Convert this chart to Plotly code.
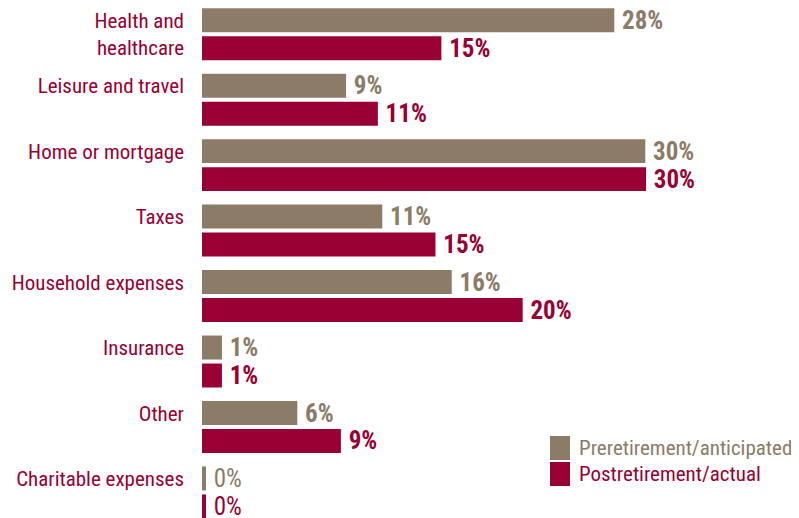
import plotly.graph_objects as go

categories = ["Health and healthcare", "Leisure and travel", "Home or mortgage", "Taxes",
              "Household expenses", "Insurance", "Other", "Charitable expenses"]
# how each category label is broken into lines in the picture
tick_texts = ["Health and<br>healthcare", "Leisure and travel<br>\u00a0", "Home or mortgage<br>\u00a0",
              "Taxes<br>\u00a0", "Household expenses<br>\u00a0", "Insurance<br>\u00a0",
              "Other<br>\u00a0", "Charitable expenses<br>\u00a0"]
# bar lengths as drawn (unrounded)
pre_values = [27.9, 9.75, 30.0, 12.2, 16.9, 1.35, 6.45, 0.27]
post_values = [16.2, 11.9, 30.05, 15.8, 21.7, 1.35, 9.4, 0.27]
# printed (rounded) labels
pre_labels = ["28%", "9%", "30%", "11%", "16%", "1%", "6%", "0%"]
post_labels = ["15%", "11%", "30%", "15%", "20%", "1%", "9%", "0%"]
series_names = ["Preretirement/anticipated", "Postretirement/actual"]

TAUPE = "#8B7B67"
CRIMSON = "#990033"
FONT = "Roboto Condensed, Liberation Sans Narrow, Arial Narrow, sans-serif"

W, H = 791, 510   # page has an 8px body margin; 791+8 = 799, 510+8 = 518
ML = 194

def weights(labels):
    return [400 if l == "0%" else 700 for l in labels]

fig = go.Figure()
for name, vals, labels, col in [(series_names[0], pre_values, pre_labels, TAUPE),
                                (series_names[1], post_values, post_labels, CRIMSON)]:
    fig.add_trace(go.Bar(
        y=categories, x=vals, name=name, orientation="h",
        marker=dict(color=col, line=dict(width=0)),
        text=["\u2009" + l for l in labels], textposition="outside", constraintext="none",
        textfont=dict(family=FONT, size=25, color=col, weight=weights(labels)),
        cliponaxis=False, showlegend=False, hoverinfo="skip",
    ))

fig.update_layout(
    width=W, height=H,
    margin=dict(l=ML, r=0, t=0, b=0, autoexpand=False),
    paper_bgcolor="white", plot_bgcolor="white",
    barmode="group", bargap=0.145, bargroupgap=0.143,
    font=dict(family=FONT, color=CRIMSON, size=21),
    xaxis=dict(range=[0, 40.4], visible=False, showgrid=False, zeroline=False, automargin=False),
    yaxis=dict(categoryorder="array", categoryarray=categories, range=[7.39, -0.40],
               tickmode="array", tickvals=categories, ticktext=tick_texts,
               showgrid=False, zeroline=False, showline=False, ticks="", automargin=False,
               ticklabelstandoff=17, tickfont=dict(family=FONT, size=21, color=CRIMSON)),
)

# legend (drawn as swatches + text)
PW = W - ML
for i, (name, col) in enumerate(zip(series_names, [TAUPE, CRIMSON])):
    top = 428 + i * 26
    fig.add_shape(type="rect", xref="paper", yref="paper",
                  x0=(542 - ML) / PW, x1=(562 - ML) / PW,
                  y0=1 - (top + 24) / H, y1=1 - top / H, fillcolor=col, line=dict(width=0))
    fig.add_annotation(xref="paper", yref="paper", x=(569 - ML) / PW, y=1 - (top + 12) / H,
                       text=name, showarrow=False, xanchor="left", yanchor="middle",
                       font=dict(family=FONT, size=21, color=col))

fig.write_html("out.html")
